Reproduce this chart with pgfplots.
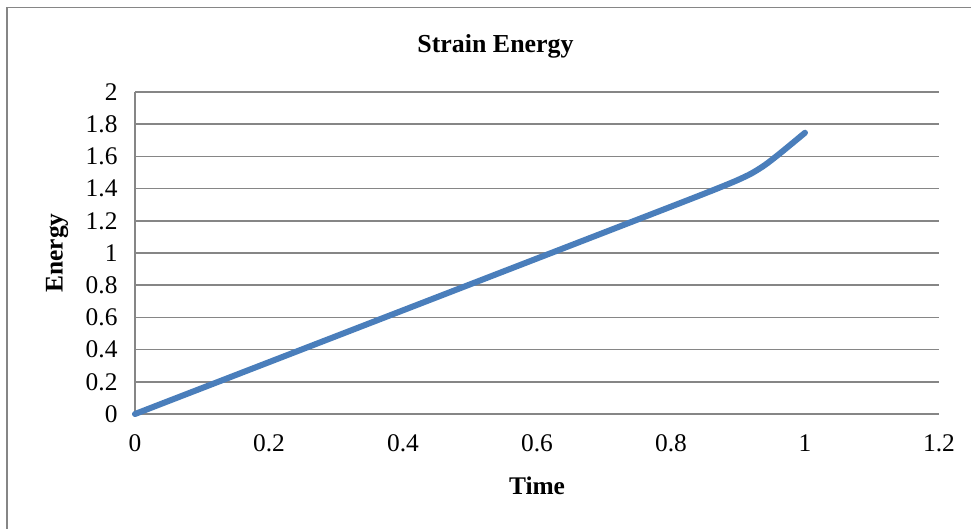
\documentclass[border=0pt]{standalone}
\usepackage{pgfplots}
\pgfplotsset{compat=1.18}
\usepackage{fontspec}
\setmainfont{Liberation Serif}
\definecolor{gridgray}{HTML}{868686}
\definecolor{lineblue}{HTML}{4A7EBB}

% strain energy over time
\pgfplotstableread{
t     E
0     0
0.1   0.161
0.2   0.322
0.3   0.483
0.4   0.644
0.5   0.805
0.6   0.966
0.7   1.127
0.8   1.288
0.85  1.369
0.88  1.419
0.9   1.454
0.92  1.494
0.94  1.546
0.96  1.610
0.98  1.678
1.0   1.747
}\energydata

\begin{document}
\begin{tikzpicture}[x=1bp,y=1bp]
\path[use as bounding box] (0,0) rectangle (971bp,-529bp);
\draw[gridgray, line width=1.5bp] (7bp,-560bp) -- (7bp,-7.5bp) -- (1000bp,-7.5bp);
\begin{axis}[
  at={(135bp,-414bp)}, anchor=south west,
  scale only axis, width=804bp, height=322bp,
  xmin=0, xmax=1.2, ymin=0, ymax=2,
  xtick={0,0.2,0.4,0.6,0.8,1,1.2},
  ytick={0,0.2,0.4,0.6,0.8,1,1.2,1.4,1.6,1.8,2},
  /pgf/number format/assume math mode=true,
  ticklabel style={font=\fontsize{25.5}{28}\selectfont},
  xticklabel style={yshift=-17bp},
  yticklabel style={xshift=-14bp},
  major tick length=0pt,
  axis line style={draw=none},
  ymajorgrids,
  major grid style={gridgray, line width=1.5bp},
  clip=false,
]
\draw[gridgray, line width=1.5bp] (rel axis cs:0,0) -- (rel axis cs:0,1);
\addplot[lineblue, line width=6bp, line cap=round, smooth, tension=0.5]
  table[x=t, y=E] {\energydata};
\end{axis}
\node[font=\fontsize{26}{30}\selectfont\bfseries] at (495.5bp,-46bp) {Strain Energy};
\node[font=\fontsize{25.5}{30}\selectfont\bfseries] at (537bp,-486bp) {Time};
\node[font=\fontsize{25.5}{30}\selectfont\bfseries, rotate=90] at (57bp,-253bp) {Energy};
\end{tikzpicture}
\end{document}
